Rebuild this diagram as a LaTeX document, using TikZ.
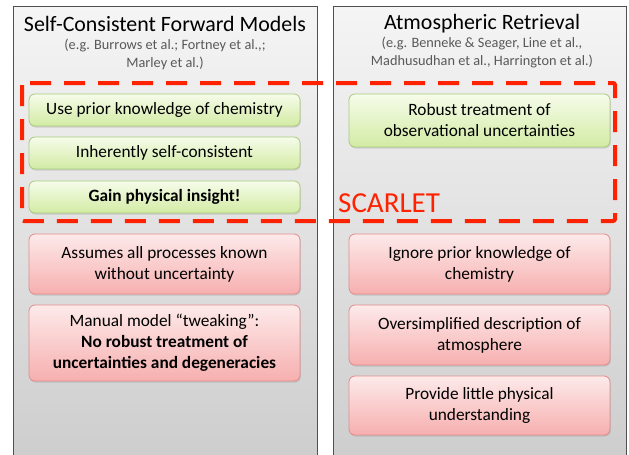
\documentclass[tikz,border=0pt]{standalone}
\usepackage{fontspec}
\setmainfont{Carlito}
\usetikzlibrary{shadows}
\definecolor{panelline}{HTML}{505050}
\definecolor{subgray}{HTML}{595959}
\definecolor{goodtop}{HTML}{F6FCEA}
\definecolor{goodbot}{HTML}{D2EBA4}
\definecolor{goodline}{HTML}{A9CB7C}
\definecolor{badtop}{HTML}{FDEAEA}
\definecolor{badbot}{HTML}{F7AFAF}
\definecolor{badline}{HTML}{E48C8C}
\definecolor{scarletred}{HTML}{FF2200}
\begin{document}
\begin{tikzpicture}[x=1pt,y=-1pt,
  panel/.style={draw=panelline, line width=0.8pt, top color=gray!8, bottom color=gray!40,
    minimum height=470pt, anchor=north, inner sep=0pt},
  boxbase/.style={rounded corners=6pt, line width=0.8pt, align=center, inner sep=2pt,
    font=\fontsize{17.3}{21}\selectfont,
    drop shadow={opacity=0.25, shadow xshift=0.8pt, shadow yshift=-1.6pt}},
  goodbox/.style={boxbase, draw=goodline, top color=goodtop, bottom color=goodbot},
  badbox/.style={boxbase, draw=badline, top color=badtop, bottom color=badbot},
  ptitle/.style={font=\fontsize{21.9}{24}\selectfont, inner sep=0pt},
  psub/.style={font=\fontsize{14.3}{18}\selectfont, text=subgray, align=center, inner sep=0pt},
  scarletzone/.style={draw=scarletred, line width=4pt, dash pattern=on 21pt off 13pt,
    rounded corners=2pt}
]
\useasboundingbox (0,0) rectangle (629,455);
\clip (0,0) rectangle (629,455);
\fill[white] (0,0) rectangle (629,455);

% the two columns
\node[panel, minimum width=304pt] (fwd) at (165,6) {};
\node[panel, minimum width=293pt] (ret) at (479.5,6) {};

% column headings
\node[ptitle] (fwdtitle) at (165,24) {Self-Consistent Forward Models};
\node[psub] (fwdsub) at (165,54) {(e.g. Burrows et al.; Fortney et al.,;\\Marley et al.)};
\node[ptitle] (rettitle) at (482,24) {Atmospheric Retrieval};
\node[psub] (retsub) at (482,53) {(e.g. Benneke \& Seager, Line et al.,\\Madhusudhan et al., Harrington et al.)};

% strengths
\node[goodbox, minimum width=271pt, minimum height=32pt] (g1) at (164.5,110) {Use prior knowledge of chemistry};
\node[goodbox, minimum width=271pt, minimum height=32pt] (g2) at (164.5,153) {Inherently self-consistent};
\node[goodbox, minimum width=271pt, minimum height=32pt] (g3) at (164.5,197) {\bfseries Gain physical insight!};
\node[goodbox, minimum width=261pt, minimum height=53pt] (g4) at (479.5,120.5) {Robust treatment of\\observational uncertainties};

% weaknesses
\node[badbox, minimum width=271pt, minimum height=60pt] (b1) at (164.5,264) {Assumes all processes known\\without uncertainty};
\node[badbox, minimum width=271pt, minimum height=76pt] (b2) at (164.5,343) {Manual model ``tweaking'':\\\bfseries No robust treatment of\\\bfseries uncertainties and degeneracies};
\node[badbox, minimum width=261pt, minimum height=60pt] (b3) at (479.5,264) {Ignore prior knowledge of\\chemistry};
\node[badbox, minimum width=261pt, minimum height=60pt] (b4) at (479.5,335) {Oversimplified description of\\atmosphere};
\node[badbox, minimum width=261pt, minimum height=59pt] (b5) at (479.5,405.5) {Provide little physical\\understanding};

% the combined region
\coordinate (zoneNW) at (22,83);
\coordinate (zoneSE) at (615,221);
\draw[scarletzone] (zoneNW) rectangle (zoneSE);
\node[text=scarletred, font=\fontsize{29}{30}\selectfont, anchor=base west, inner sep=0pt] (scarlet) at (338,212) {SCARLET};
\end{tikzpicture}
\end{document}
